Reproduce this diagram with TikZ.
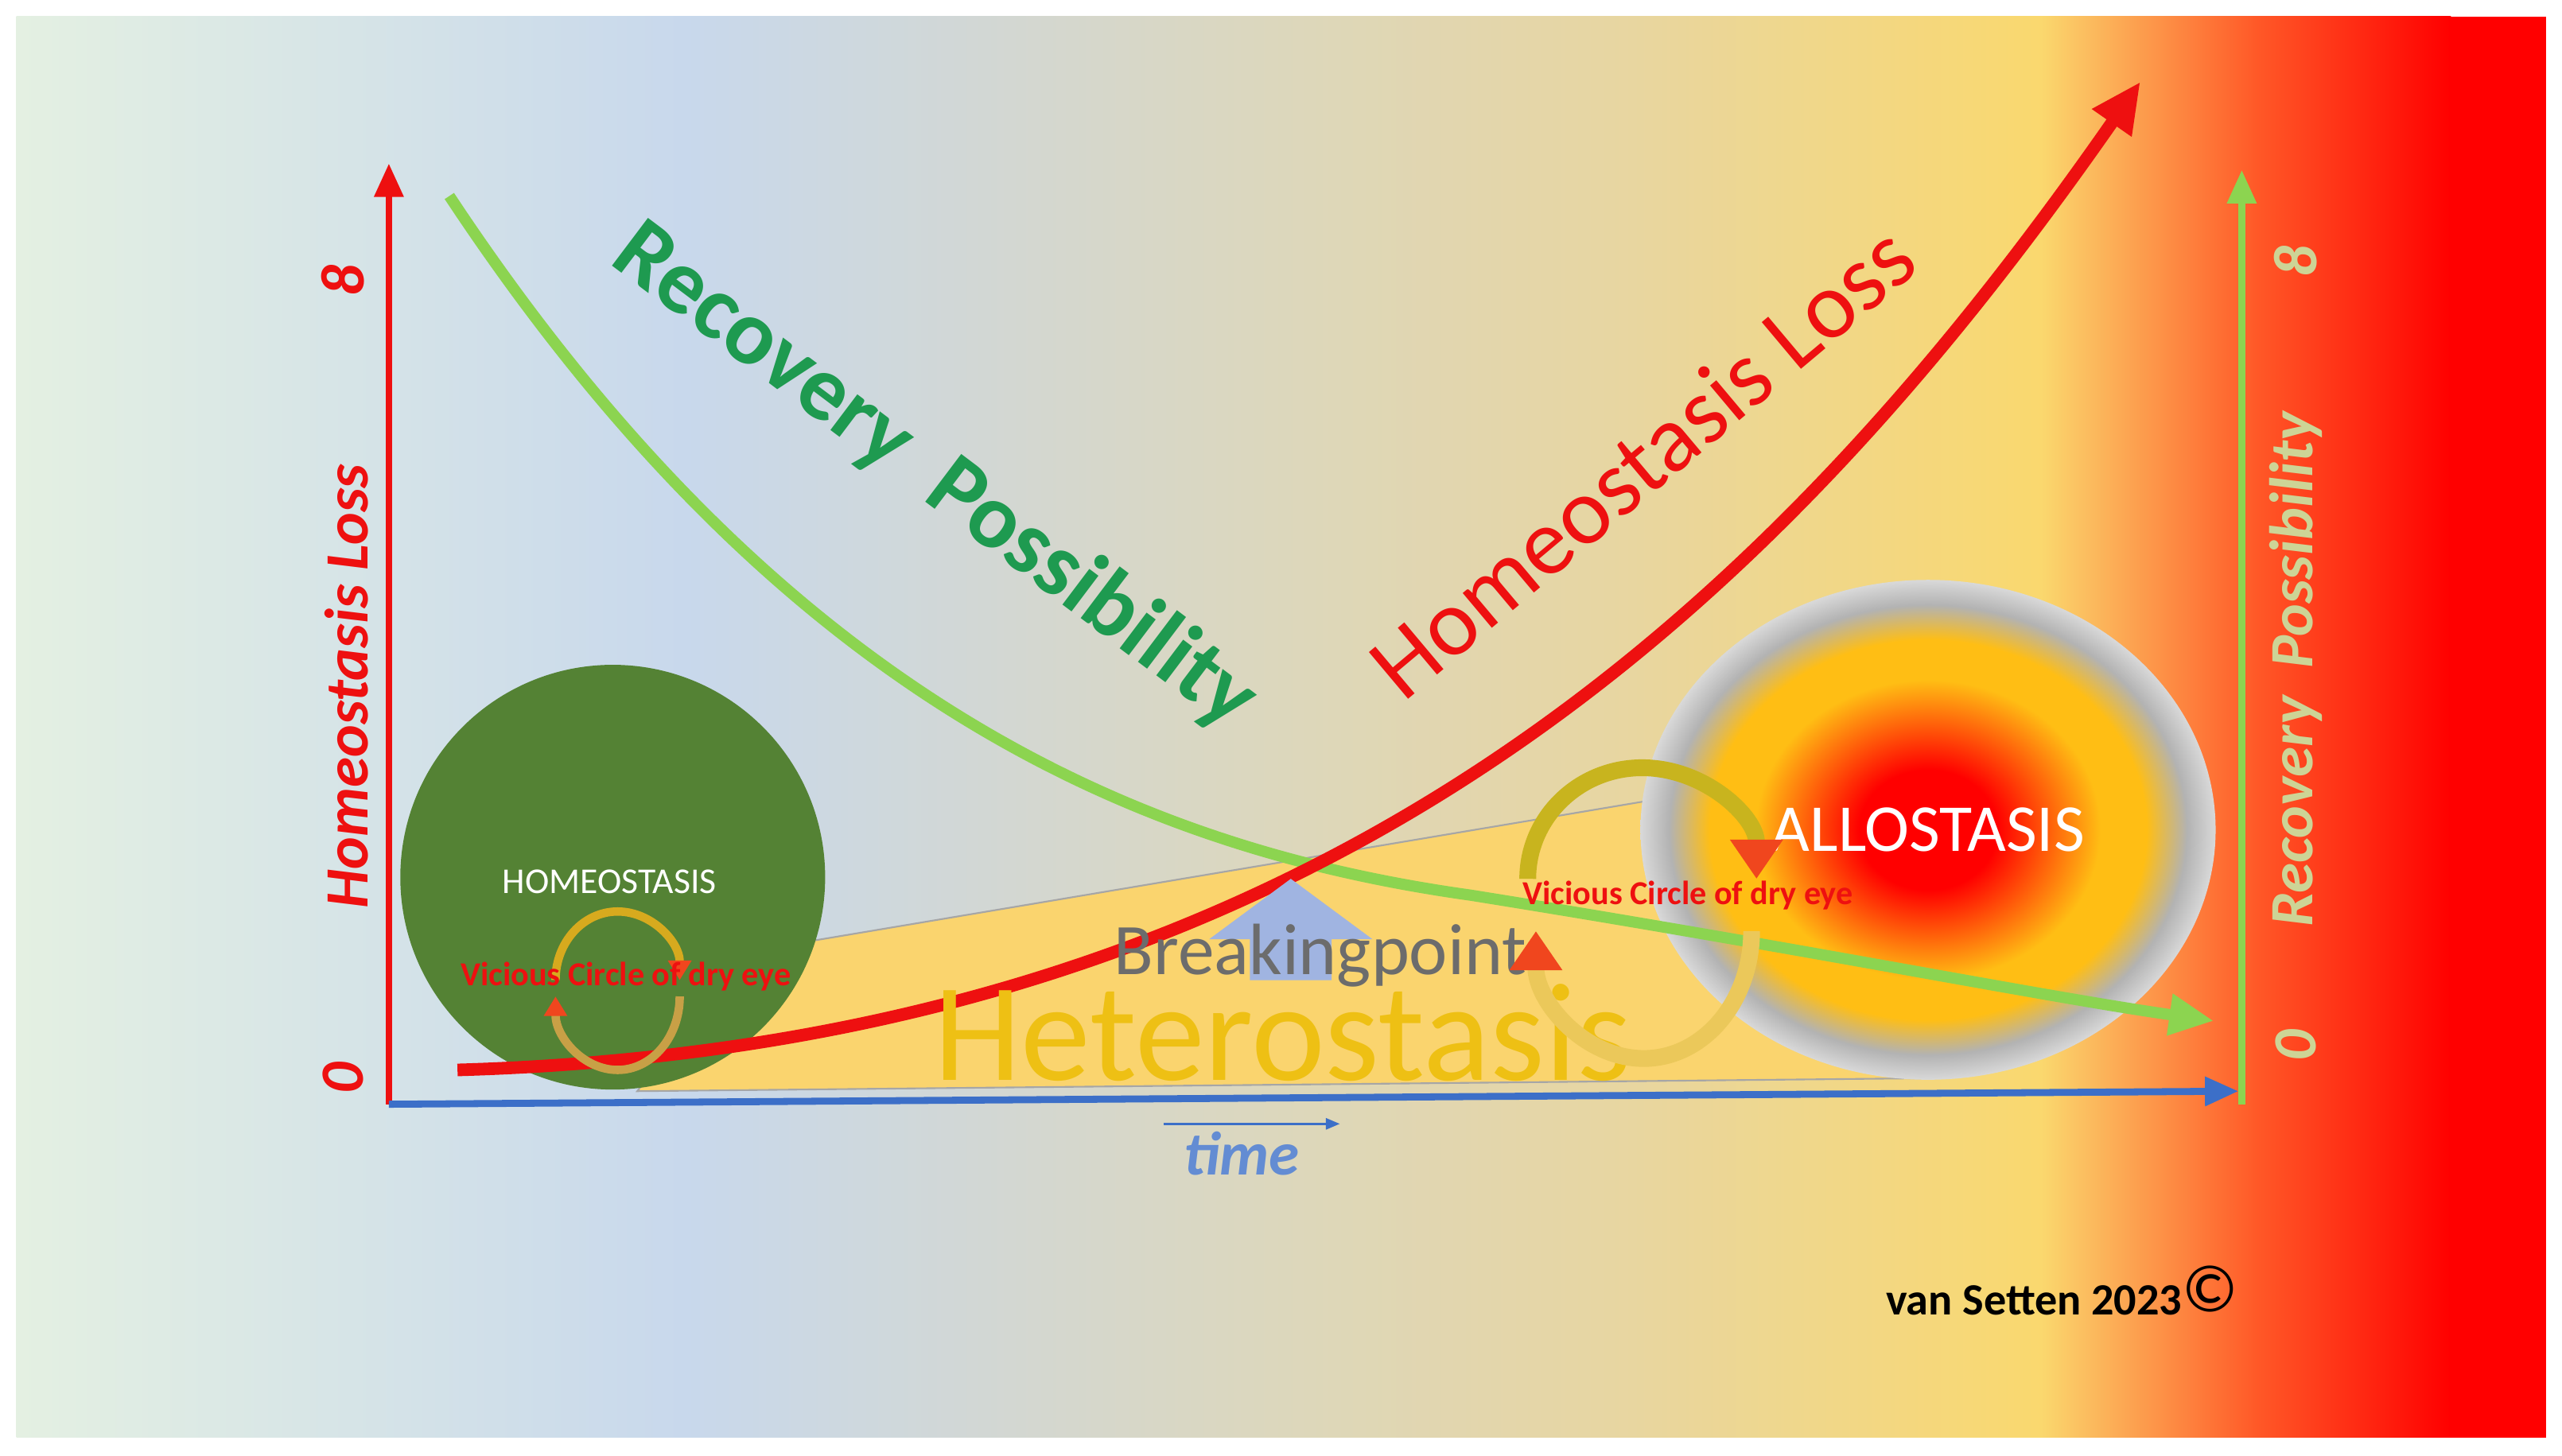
\documentclass[tikz,border=0pt]{standalone}
\usepackage{fontspec}
\setmainfont{Carlito}
\usetikzlibrary{arrows.meta,shadings}
\definecolor{rgreen}{HTML}{1E9A50}
\definecolor{lgreen}{HTML}{8CD450}
\definecolor{dred}{HTML}{EE1010}
\definecolor{tblue}{HTML}{3C6FC8}
\definecolor{bgA}{RGB}{228,240,226}
\definecolor{bgB}{RGB}{200,216,236}
\definecolor{bgC}{RGB}{232,214,160}
\definecolor{bgD}{RGB}{250,216,110}
\definecolor{bgE}{RGB}{255,90,40}
\definecolor{triY}{RGB}{250,212,110}
\definecolor{hgreen}{RGB}{84,130,52}
\definecolor{alloY}{RGB}{255,190,20}
\definecolor{axG}{RGB}{205,212,150}
\definecolor{bpB}{RGB}{160,180,225}
\definecolor{hetY}{RGB}{238,192,20}
\definecolor{vcA}{RGB}{215,170,30}
\definecolor{vcB}{RGB}{200,160,70}
\definecolor{vcC}{RGB}{200,180,30}
\definecolor{vcD}{RGB}{235,200,90}
\definecolor{tipR}{RGB}{240,70,30}
\pgfdeclareradialshading{allo}{\pgfpoint{0bp}{0bp}}{color(0bp)=(red); color(6bp)=(red); color(15bp)=(alloY); color(19bp)=(alloY); color(22.5bp)=(gray!60); color(25bp)=(gray!30); color(50bp)=(gray!30)}
\tikzset{lbl/.style={font=\bfseries\itshape\fontsize{#1}{#1}\selectfont},
  big/.style={font=\fontsize{#1}{#1}\selectfont}}
\begin{document}
\begin{tikzpicture}[x=0.02054cm,y=-0.02054cm]
\useasboundingbox (0,0) rectangle (1568,891);
\fill[white] (0,0) rectangle (1568,891);
\shade[left color=bgA,right color=bgB] (10,10) rectangle (420,880);
\shade[left color=bgB,right color=bgC] (419,10) rectangle (1000,880);
\shade[left color=bgC,right color=bgD] (999,10) rectangle (1250,880);
\shade[left color=bgD,right color=bgE] (1249,10) rectangle (1380,880);
\shade[left color=bgE,right color=red] (1379,10) rectangle (1500,880);
\fill[red] (1499,10) rectangle (1558,880);
% heterostasis triangle
\filldraw[fill=triY,draw=gray!70,line width=0.6pt] (455,583) -- (1010,490) -- (1185,660) -- (390,668) -- cycle;
% homeostasis circle
\fill[hgreen] (375,537) circle (130);
\node[text=white,big=13] (homeo) at (373,540) {HOMEOSTASIS};
% allostasis
\shade[shading=allo] (1180,508) ellipse (176 and 153);
\node[text=white,big=24] (allo) at (1180,508) {ALLOSTASIS};
% axes
\coordinate (o) at (238,676);
\draw[dred,line width=2.5pt,-{Triangle[length=12pt,width=10pt]}] (o) -- (238,100);
\draw[tblue,line width=2.5pt,-{Triangle[length=12pt,width=10pt]}] (o) -- (1370,668);
\draw[lgreen,line width=2.5pt,-{Triangle[length=12pt,width=10pt]}] (1372,676) -- (1372,104);
\node[text=dred,lbl=22,rotate=90] (l8) at (210,172) {8};
\node[text=dred,lbl=22,rotate=90] (lhl) at (212,420) {Homeostasis Loss};
\node[text=dred,lbl=22,rotate=90] (l0) at (210,660) {0};
\node[text=axG,lbl=22,rotate=90] (r8) at (1405,160) {8};
\node[text=axG,lbl=22,rotate=90] (rrp) at (1405,410) {Recovery\ \ Possibility};
\node[text=axG,lbl=22,rotate=90] (r0) at (1405,640) {0};
% curves
\draw[lgreen,line width=4pt,-{Triangle[length=16pt,width=14pt]}] (275,120) .. controls (480,430) and (700,520) .. (900,548) .. controls (1100,580) and (1250,610) .. (1355,625);
\draw[dred,line width=4.5pt,-{Triangle[length=18pt,width=16pt]}] (280,655) .. controls (800,640) and (1080,380) .. (1310,50);
% breaking point arrow
\fill[bpB] (765,600) -- (765,575) -- (740,575) -- (790,538) -- (840,575) -- (815,575) -- (815,600) -- cycle;
\node[text=gray!85!black,big=26] (bp) at (808,585) {Breakingpoint};
\node[text=hetY,big=50] (het) at (785,632) {Heterostasis};
% big rotated labels
\node[text=rgreen,font=\bfseries\fontsize{33}{33}\selectfont,rotate=-37] (rp) at (572,292) {Recovery\ \ Possibility};
\node[text=dred,big=34,rotate=40] (hl) at (1005,282) {Homeostasis Loss};
% vicious circles
\draw[vcA,line width=3pt,-{Triangle[length=7pt,width=8pt,color=tipR]}] (340,600) arc (180:360:38 and 42);
\draw[vcB,line width=3pt,-{Triangle[length=7pt,width=8pt,color=tipR]}] (416,610) arc (0:180:38 and 45);
\node[text=dred,font=\bfseries\fontsize{12}{12}\selectfont] (vc1) at (383,598) {Vicious Circle of dry eye};
\draw[vcC,line width=6pt,-{Triangle[length=14pt,width=18pt,color=tipR]}] (935,538) arc (180:360:70 and 68);
\draw[vcD,line width=6pt,-{Triangle[length=14pt,width=18pt,color=tipR]}] (1072,570) arc (0:180:66 and 78);
\node[text=dred,font=\bfseries\fontsize{12}{12}\selectfont] (vc2) at (1033,548) {Vicious Circle of dry eye};
% time
\coordinate (t1) at (712,688); \coordinate (t2) at (820,688);
\draw[tblue,line width=0.8pt,-{Triangle[length=5pt,width=4pt]}] (t1) -- (t2);
\node[text=tblue!80,lbl=22] (time) at (760,706) {time};
\node[text=black,font=\bfseries\fontsize{16}{16}\selectfont] (cp) at (1262,790) {van Setten 2023\raisebox{1pt}{\fontsize{24}{24}\selectfont\mdseries ©}};
\end{tikzpicture}
\end{document}
